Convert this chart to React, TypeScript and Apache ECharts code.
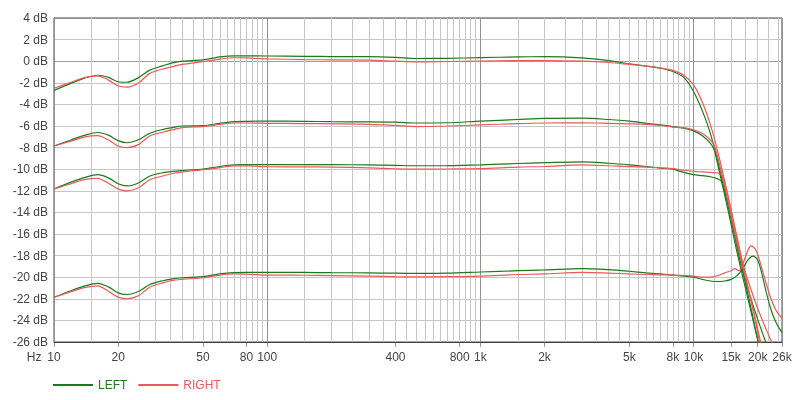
import React, { useEffect, useRef } from "react";
import * as echarts from "echarts";

// ---- Data ----
const FREQ = [10, 12, 14, 16, 18, 20, 22, 25, 28, 32, 36, 40, 50, 60, 70, 80, 100, 150, 200, 300, 400, 500, 700, 1000, 1500, 2000, 3000, 4000, 5000, 6000, 7000, 8000, 9000, 10000];

const LEFT_1 = [-2.7, -2.05, -1.55, -1.3, -1.5, -1.9, -1.95, -1.5, -0.85, -0.45, -0.15, 0.0, 0.12, 0.4, 0.5, 0.5, 0.48, 0.45, 0.43, 0.42, 0.35, 0.25, 0.27, 0.33, 0.4, 0.42, 0.3, 0.05, -0.25, -0.45, -0.65, -0.95, -1.5, -2.8];
const RIGHT_1 = [-2.5, -1.95, -1.5, -1.35, -1.75, -2.3, -2.4, -2.0, -1.15, -0.75, -0.5, -0.3, -0.05, 0.2, 0.32, 0.3, 0.22, 0.15, 0.12, 0.1, 0.0, -0.07, -0.03, 0.02, 0.05, 0.05, 0.0, -0.12, -0.3, -0.45, -0.62, -0.85, -1.3, -2.2];
const LEFT_2 = [-7.85, -7.3, -6.85, -6.6, -6.85, -7.35, -7.55, -7.25, -6.7, -6.35, -6.15, -6.0, -5.97, -5.75, -5.6, -5.57, -5.55, -5.57, -5.6, -5.62, -5.65, -5.72, -5.7, -5.55, -5.4, -5.3, -5.28, -5.4, -5.55, -5.75, -5.9, -6.05, -6.2, -6.45];
const RIGHT_2 = [-7.85, -7.4, -7.0, -6.9, -7.3, -7.85, -8.0, -7.7, -6.95, -6.6, -6.35, -6.15, -6.05, -5.85, -5.72, -5.72, -5.75, -5.78, -5.8, -5.85, -5.95, -6.05, -6.0, -5.9, -5.78, -5.72, -5.7, -5.75, -5.8, -5.85, -5.95, -6.1, -6.15, -6.35];
const LEFT_3 = [-11.83, -11.2, -10.75, -10.5, -10.8, -11.35, -11.55, -11.25, -10.65, -10.35, -10.2, -10.12, -9.98, -9.75, -9.6, -9.57, -9.57, -9.57, -9.58, -9.6, -9.65, -9.68, -9.67, -9.6, -9.47, -9.4, -9.32, -9.45, -9.6, -9.75, -9.9, -10.0, -10.3, -10.5];
const RIGHT_3 = [-11.83, -11.35, -10.95, -10.85, -11.3, -11.85, -12.0, -11.7, -11.0, -10.65, -10.4, -10.25, -10.05, -9.85, -9.7, -9.7, -9.77, -9.78, -9.8, -9.88, -9.96, -10.0, -9.98, -9.95, -9.8, -9.75, -9.6, -9.68, -9.77, -9.8, -9.88, -9.95, -10.1, -10.2];
const LEFT_4 = [-21.86, -21.25, -20.8, -20.57, -20.9, -21.45, -21.6, -21.3, -20.7, -20.35, -20.15, -20.05, -19.95, -19.7, -19.58, -19.55, -19.55, -19.56, -19.58, -19.6, -19.63, -19.65, -19.63, -19.52, -19.4, -19.33, -19.2, -19.3, -19.45, -19.6, -19.7, -19.8, -19.9, -20.0];
const RIGHT_4 = [-21.86, -21.35, -20.95, -20.8, -21.3, -21.85, -22.0, -21.7, -20.95, -20.55, -20.3, -20.2, -20.05, -19.8, -19.7, -19.72, -19.8, -19.82, -19.85, -19.9, -19.95, -19.97, -19.95, -19.9, -19.75, -19.7, -19.55, -19.62, -19.7, -19.75, -19.78, -19.8, -19.85, -19.9];

// high-frequency tails
const TAIL_1_FREQ = [11000, 12000, 13000, 14000, 15000, 16000, 18000, 20000, 22000];
const LEFT_1_TAIL = [-4.6, -6.7, -9.3, -12.0, -14.6, -17.1, -21.6, -25.8, -30];
const RIGHT_1_TAIL = [-3.8, -5.9, -8.4, -11.1, -13.8, -16.3, -20.9, -25.1, -29.5];

const TAIL_2_FREQ = [11000, 12000, 12500, 13000, 14000, 15000, 16000, 18000, 20000, 22000];
const LEFT_2_TAIL = [-6.9, -7.6, -8.2, -9.6, -12.4, -15.1, -17.7, -22.0, -25.8, -29.5];
const RIGHT_2_TAIL = [-6.7, -7.3, -7.8, -8.9, -11.6, -14.3, -16.9, -21.0, -24.8, -28.5];

const TAIL_3_FREQ = [11000, 12000, 13000, 13500, 14000, 15000, 16000, 17000, 18000, 20000, 22000, 24000, 26000];
const LEFT_3_TAIL = [-10.6, -10.7, -10.9, -11.1, -12.0, -14.5, -17.2, -19.4, -21.1, -23.9, -26.2, -28.0, -29.5];
const RIGHT_3_TAIL = [-10.25, -10.3, -10.35, -10.45, -11.2, -13.8, -16.5, -18.7, -20.3, -22.9, -24.9, -26.6, -28.0];

const TAIL_4L_FREQ = [11000, 12000, 13000, 14000, 15000, 16000, 17000, 18000, 19000, 20000, 21000, 22000, 23000, 24000, 25000, 26000];
const LEFT_4_TAIL = [-20.2, -20.35, -20.4, -20.35, -20.2, -19.85, -19.2, -18.4, -18.05, -18.4, -19.8, -21.5, -22.9, -23.9, -24.6, -25.1];
const TAIL_4R_FREQ = [11000, 12000, 13000, 14000, 15000, 15600, 16300, 17000, 18000, 18600, 19500, 20000, 21000, 22000, 23000, 24000, 25000, 26000];
const RIGHT_4_TAIL = [-20.0, -20.0, -19.85, -19.6, -19.4, -19.2, -19.4, -18.8, -17.5, -17.1, -17.4, -17.9, -19.3, -20.7, -21.9, -22.8, -23.4, -23.8];

// axes
const LABEL_FREQS = [10, 20, 50, 80, 100, 400, 800, 1000, 2000, 5000, 8000, 10000, 15000, 20000, 26000];
const GRID_FREQS_A = [15, 20, 25, 30, 35, 40, 45, 50, 55, 60, 65, 70, 75, 80, 85, 90, 95];
const GRID_FREQS_B = [150, 200, 250, 300, 350, 400, 450, 500, 550, 600, 650, 700, 750, 800, 850, 900, 950];
const GRID_FREQS_C = [1500, 2000, 2500, 3000, 3500, 4000, 4500, 5000, 5500, 6000, 6500, 7000, 7500, 8000, 8500, 9000, 9500];
const GRID_FREQS_D = [12500, 15000, 17500, 20000, 22500, 25000];
const Y_TICKS = [-26, -24, -22, -20, -18, -16, -14, -12, -10, -8, -6, -4, -2, 0, 2, 4];

const GREEN = "#1b7a1b";
const RED = "#eb5a5a";
const LIGHT = "#c6c6c6";
const DARK = "#939393";
const ZERO = "#a0a0a0";
const TEXT = "#444444";
const FONT = "'Liberation Sans', Arial, sans-serif";

const F_MIN = 10;
const F_MAX = 26000;
const LOG_MIN = Math.log10(F_MIN);
const LOG_MAX = Math.log10(F_MAX);

function pairs(fs: number[], vs: number[], tf: number[], tv: number[]) {
  const out: number[][] = fs.map((f, i) => [f, vs[i]]);
  tf.forEach((f, i) => out.push([f, tv[i]]));
  return out;
}

function fmtFreq(v: number) {
  const f = Math.round(Math.pow(10, v));
  if (f >= 1000) return f / 1000 + "k";
  return String(f);
}

export default function App() {
  const ref = useRef<HTMLDivElement>(null);
  useEffect(() => {
    if (!ref.current) return;
    const chart = echarts.init(ref.current, null, { renderer: "svg" });
    const mk = (name: string, color: string, data: number[][]) => ({
      name,
      type: "line",
      xAxisIndex: 0,
      yAxisIndex: 0,
      data,
      symbol: "none",
      smooth: 0.3,
      clip: true,
      z: 3,
      lineStyle: { color, width: 1.2 },
      itemStyle: { color },
    });
    const gridAll = [...GRID_FREQS_A, ...GRID_FREQS_B, ...GRID_FREQS_C, ...GRID_FREQS_D].map((f) => Math.log10(f));
    const labelVals = LABEL_FREQS.map((f) => Math.log10(f));
    chart.setOption({
      animation: false,
      grid: {
        left: 54,
        right: 18,
        top: 18,
        bottom: 58,
        show: true,
        borderColor: "#444",
        borderWidth: 1,
        containLabel: false,
      },
      legend: {
        left: 53,
        top: 379,
        padding: 0,
        itemWidth: 40,
        itemHeight: 2,
        itemGap: 11,
        icon: "rect",
        textStyle: { fontSize: 12, fontFamily: FONT },
        data: [
          { name: "LEFT", textStyle: { color: GREEN } },
          { name: "RIGHT", textStyle: { color: RED } },
        ],
      },
      xAxis: [
        {
          type: "log",
          logBase: 10,
          min: F_MIN,
          max: F_MAX,
          position: "bottom",
          axisLine: { show: true, onZero: false, lineStyle: { color: "#444" } },
          axisTick: { show: false },
          axisLabel: { show: false },
          splitLine: { show: true, lineStyle: { color: DARK, width: 1 } },
          z: 2,
        },
        {
          type: "value",
          min: LOG_MIN,
          max: LOG_MAX,
          position: "bottom",
          axisLine: { show: false, onZero: false },
          axisTick: { show: false, customValues: gridAll },
          axisLabel: { show: false },
          splitLine: { show: true, lineStyle: { color: LIGHT, width: 1 } },
          z: 1,
        },
        {
          type: "value",
          min: LOG_MIN,
          max: LOG_MAX,
          position: "bottom",
          name: "Hz",
          nameLocation: "start",
          nameGap: 12,
          nameTextStyle: { color: TEXT, fontSize: 12, fontFamily: FONT, verticalAlign: "top", padding: [9, 0, 0, 0] },
          axisLine: { show: false, onZero: false },
          axisTick: { show: true, customValues: labelVals, length: 5, lineStyle: { color: "#999" } },
          axisLabel: { show: true, customValues: labelVals, formatter: fmtFreq, color: TEXT, fontSize: 12, fontFamily: FONT, margin: 9 },
          splitLine: { show: false },
        },
      ],
      yAxis: {
        type: "value",
        min: -26,
        max: 4,
        interval: 2,
        axisLine: { show: true, onZero: false, lineStyle: { color: "#444" } },
        axisTick: { show: false },
        axisLabel: { formatter: "{value} dB", color: TEXT, fontSize: 12, fontFamily: FONT, margin: 6 },
        splitLine: { show: true, lineStyle: { color: Y_TICKS.map((v) => (v === 0 ? ZERO : v === 4 ? DARK : LIGHT)), width: 1 } },
      },
      series: [
        mk("LEFT", GREEN, pairs(FREQ, LEFT_1, TAIL_1_FREQ, LEFT_1_TAIL)),
        mk("LEFT", GREEN, pairs(FREQ, LEFT_2, TAIL_2_FREQ, LEFT_2_TAIL)),
        mk("LEFT", GREEN, pairs(FREQ, LEFT_3, TAIL_3_FREQ, LEFT_3_TAIL)),
        mk("LEFT", GREEN, pairs(FREQ, LEFT_4, TAIL_4L_FREQ, LEFT_4_TAIL)),
        mk("RIGHT", RED, pairs(FREQ, RIGHT_1, TAIL_1_FREQ, RIGHT_1_TAIL)),
        mk("RIGHT", RED, pairs(FREQ, RIGHT_2, TAIL_2_FREQ, RIGHT_2_TAIL)),
        mk("RIGHT", RED, pairs(FREQ, RIGHT_3, TAIL_3_FREQ, RIGHT_3_TAIL)),
        mk("RIGHT", RED, pairs(FREQ, RIGHT_4, TAIL_4R_FREQ, RIGHT_4_TAIL)),
      ],
    });
    return () => chart.dispose();
  }, []);
  return <div ref={ref} style={{ position: "fixed", left: 0, top: 0, width: 800, height: 400 }} />;
}
